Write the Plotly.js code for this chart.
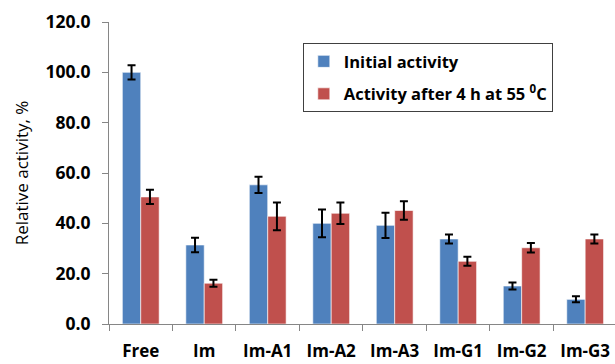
<!DOCTYPE html>
<html><head><meta charset="utf-8">
<script src="https://cdn.plot.ly/plotly-3.0.1.min.js"></script>
<style>html,body{margin:0;padding:0;background:#fff;overflow:hidden}#chart{width:615px;height:364px}</style>
</head><body><div id="chart"></div>
<script>
const categories = ["Free","Im","Im-A1","Im-A2","Im-A3","Im-G1","Im-G2","Im-G3"];
const initialActivity = [100.0, 31.4, 55.3, 40.0, 39.2, 33.8, 15.1, 9.8];
const initialError    = [2.8, 2.9, 3.2, 5.5, 5.0, 1.8, 1.4, 1.2];
const afterActivity   = [50.5, 16.2, 42.8, 44.0, 45.1, 24.9, 30.3, 33.8];
const afterError      = [2.8, 1.4, 5.5, 4.3, 3.7, 1.8, 1.9, 1.8];
const seriesNames = ["Initial activity", "Activity after 4 h at 55 <sup>0</sup>C"];

const FONT = "Open Sans, sans-serif";
const errStyle = {type:"data", visible:true, color:"#000", thickness:2, width:4};
const traces = [
  {type:"bar", name:seriesNames[0], x:categories, y:initialActivity, legendgroup:"a",
   error_y:Object.assign({array:initialError}, errStyle),
   marker:{color:"#4F81BD", line:{color:"rgba(255,255,255,0.6)", width:1}}},
  {type:"bar", name:seriesNames[1], x:categories, y:afterActivity, legendgroup:"b",
   error_y:Object.assign({array:afterError}, errStyle),
   marker:{color:"#C0504D", line:{color:"rgba(255,255,255,0.6)", width:1}}}
];
const layout = {
  width:615, height:364,
  margin:{l:109, r:0, t:22, b:40},
  paper_bgcolor:"#fff", plot_bgcolor:"#fff",
  font:{family:FONT, color:"#000"},
  barmode:"group", bargap:0.42, bargroupgap:0,
  showlegend:true,
  legend:{x:0.383, y:0.93, xanchor:"left", yanchor:"top", bordercolor:"#404040", borderwidth:1,
          bgcolor:"#fff", font:{family:FONT, size:16.5, weight:"bold"}, tracegroupgap:8, traceorder:"grouped",
          itemwidth:30},
  xaxis:{type:"category", range:[-0.5, 7.47], showline:true, linecolor:"#868686", linewidth:1,
         ticks:"outside", tickson:"boundaries", ticklen:6, tickcolor:"#868686",
         tickfont:{family:FONT, size:17, weight:"bold"}, ticklabelstandoff:12, showgrid:false, zeroline:false},
  yaxis:{range:[0,120], dtick:20, tickformat:".1f", showline:true, linecolor:"#868686", linewidth:1,
         ticks:"outside", ticklen:6, tickcolor:"#868686", showgrid:false, zeroline:false,
         tickfont:{family:FONT, size:17.5, weight:"bold"}, ticklabelstandoff:8,
         title:{text:"Relative activity, %", font:{family:FONT, size:17}, standoff:12}}
};
Plotly.newPlot("chart", traces, layout, {displayModeBar:false, staticPlot:true});
</script></body></html>
